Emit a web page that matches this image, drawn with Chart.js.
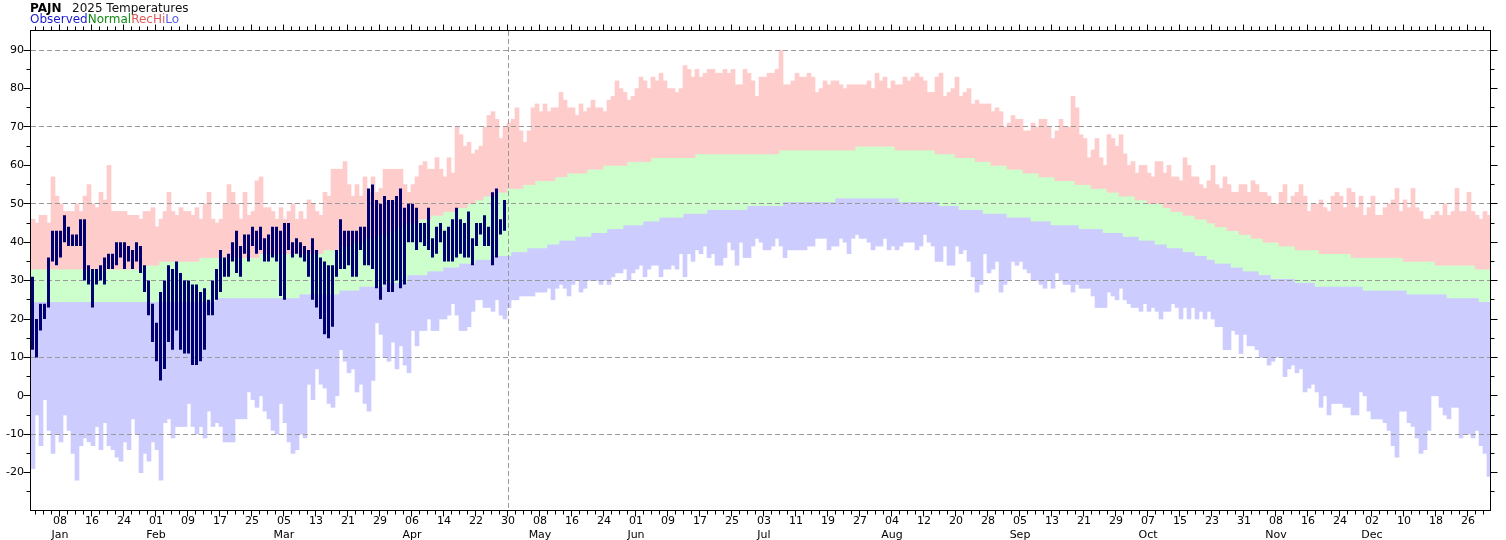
<!DOCTYPE html>
<html>
<head>
<meta charset="utf-8">
<title>PAJN 2025 Temperatures</title>
<script src="https://cdn.jsdelivr.net/npm/chart.js@4.4.1/dist/chart.umd.min.js"></script>
<style>
  html, body { margin: 0; padding: 0; background: #fff; }
  #wrap { position: relative; width: 1506px; height: 540px; }
  #chart { position: absolute; left: 0; top: 0; }
  .hdr { position: absolute; font-family: 'DejaVu Sans', sans-serif; font-size: 12px; line-height: 12px; white-space: nowrap; }
</style>
</head>
<body>
<div id="wrap">
  <canvas id="chart" width="1506" height="540"></canvas>
  <div class="hdr" style="left:30px; top:2px; font-weight:bold; color:#000">PAJN</div>
  <div class="hdr" style="left:72px; top:2px; color:#111">2025 Temperatures</div>
  <div class="hdr" style="left:30px; top:13px"><span style="color:#1a1acc">Observed</span><span style="color:#118a11">Normal</span><span style="color:#e05a5a">RecHi</span><span style="color:#5a5aee">Lo</span></div>
</div>
<script>
// ---------- data (one value per day of 2025, Jan 1 = index 0) ----------

const recHigh = [
  46,45,47,47,45,57,52,50,48,48, 48,50,48,52,55,50,49,53,51,60,
  48,48,48,48,47,47,47,46,48,48, 49,44,46,48,53,48,47,49,48,48,
  47,49,46,50,53,46,45,46,50,55, 53,50,46,53,47,48,56,57,49,49,
  48,46,49,46,48,50,46,48,46,51, 50,48,47,53,52,59,59,59,61,55,
  52,55,52,57,53,57,53,54,59,59, 59,59,59,55,53,55,57,60,61,59,
  59,62,59,57,62,58,70,68,65,66, 63,64,65,70,73,74,72,67,70,71,
  72,75,69,66,69,75,76,74,76,74, 75,75,79,77,75,75,73,76,74,75,
  77,75,75,74,77,78,82,80,79,77, 78,80,83,82,80,83,82,84,82,80,
  80,79,80,86,85,83,85,83,84,85, 85,84,84,85,84,85,81,81,85,84,
  82,78,83,83,84,84,85,90,81,81, 82,84,83,83,84,83,79,80,82,81,
  82,82,81,80,81,81,81,81,81,82, 80,84,82,83,80,82,81,81,83,82,
  83,84,83,82,79,79,83,84,78,79, 80,83,78,79,80,76,77,76,76,76,
  74,75,74,70,71,73,72,72,69,69, 71,70,72,72,70,67,69,72,70,70,
  78,75,68,67,62,64,67,62,60,68, 67,65,68,63,60,61,58,60,60,58,
  57,61,61,58,60,57,57,56,62,60, 57,57,55,54,56,60,55,54,57,55,
  53,53,55,55,53,56,55,53,53,52, 50,50,53,55,50,52,53,55,52,48,
  50,50,51,49,48,52,53,52,49,54, 53,49,52,47,49,52,47,47,49,50,
  51,54,48,51,49,54,49,48,46,46, 47,48,47,50,47,48,54,48,48,53,
  48,47,46,48,47
];

const recLow = [
  -19,-5,-13,-1,-9,-15,-10,-12,-5,-9, -15,-22,-13,-11,-12,-13,-8,-14,-7,-13,
  -14,-16,-17,-12,-14,-6,-10,-20,-15,-17, -12,-14,-22,-7,-6,-11,-8,-8,-8,-2,
  -8,-10,-8,-11,-4,-8,-7,-8,-12,-12, -12,-6,-6,-6,1,-1,-3,0,-4,-6,
  -9,-10,-2,-7,-12,-15,-14,-10,-11,3, -1,7,3,2,-2,-3,0,12,9,6,
  7,1,3,-2,-4,4,19,16,10,9, 14,7,13,8,6,17,13,17,17,20,
  17,17,20,20,21,24,21,17,17,18, 22,25,25,23,23,22,25,21,20,23,
  25,25,26,26,26,26,27,27,27,28, 25,28,29,28,26,29,30,27,28,30,
  30,30,29,30,29,31,32,32,33,30, 32,33,34,31,33,34,34,31,33,33,
  34,33,37,31,37,35,38,37,39,36, 37,34,34,36,40,38,34,40,36,36,
  39,41,40,38,38,39,41,39,36,38, 38,38,38,38,39,39,41,41,41,38,
  39,39,41,40,37,41,42,41,41,40, 38,39,39,41,38,39,38,39,40,40,
  40,38,39,42,40,39,35,35,39,34, 34,39,37,38,35,31,27,29,37,32,
  33,35,27,29,30,35,34,35,33,32, 30,30,29,28,30,28,32,30,29,29,
  27,29,28,28,28,26,23,23,23,27, 26,25,28,25,24,23,23,22,24,22,
  23,22,20,22,22,24,23,20,23,20, 23,20,22,20,22,20,18,18,12,12,
  17,16,11,16,13,13,12,10,10,8, 9,10,10,5,7,8,6,7,1,2,
  3,1,-3,0,-5,-2,-2,-2,-3,-3, -5,-5,1,0,-4,-6,-6,-6,-7,-9,
  -13,-16,-4,-4,-7,-8,-11,-15,-14,-9, 0,0,-3,-5,-6,-3,-3,-11,-10,-10,
  -11,-9,-13,-15,-21
];

const normHigh = [
  33,33,33,33,33,33,33,33,33,33, 33,33,33,33,33,33,33,33,33,33,
  33,33,33,33,33,33,33,34,34,34, 34,34,35,35,35,35,35,35,35,35,
  35,35,36,36,36,36,36,36,36,36, 36,36,36,36,36,36,36,37,37,37,
  37,37,37,37,37,37,37,37,37,37, 37,37,37,38,38,38,38,39,39,39,
  40,40,40,41,41,41,42,42,42,43, 43,44,44,45,45,45,45,46,46,46,
  47,47,47,48,48,48,49,49,49,50, 50,51,51,52,52,52,53,53,53,54,
  54,54,54,55,55,55,56,56,56,56, 56,57,57,57,58,58,58,58,58,59,
  59,59,59,60,60,60,60,60,60,61, 61,61,61,61,61,62,62,62,62,62,
  62,62,62,62,62,62,63,63,63,63, 63,63,63,63,63,63,63,63,63,63,
  63,63,63,63,63,63,63,64,64,64, 64,64,64,64,64,64,64,64,64,64,
  64,64,64,64,64,64,65,65,65,65, 65,65,65,65,65,65,64,64,64,64,
  64,64,64,64,64,64,63,63,63,63, 63,62,62,62,62,62,61,61,61,61,
  60,60,60,60,59,59,59,59,58,58, 58,58,57,57,57,57,56,56,56,56,
  56,55,55,55,55,54,54,54,54,53, 53,53,52,52,52,52,51,51,51,50,
  50,50,50,49,49,48,48,48,47,47, 47,46,46,46,45,45,44,44,44,43,
  43,43,42,42,42,41,41,41,40,40, 40,40,39,39,39,39,38,38,38,38,
  38,38,37,37,37,37,37,37,37,37, 36,36,36,36,36,36,36,36,36,36,
  36,36,36,35,35,35,35,35,35,35, 35,34,34,34,34,34,34,34,34,34,
  34,33,33,33,33
];

const normLow = [
  24.5,24.5,24.5,24.5,24.5,24.5,24.5,24.5,24.5,24.5, 24.5,24.5,24.5,24.5,24.5,24.5,24.5,24.5,24.5,24.5,
  24.5,24.5,24.5,24.5,24.5,24.5,24.5,24.5,24.5,24.5, 24.5,24.5,24.5,24.5,24.5,24.5,24.5,24.5,24.5,24.5,
  24.5,24.5,24.5,24.5,24.5,24.5,25.5,25.5,25.5,25.5, 25.5,25.5,25.5,25.5,25.5,25.5,25.5,25.5,25.5,25.5,
  25.5,25.5,25.5,25.5,25.5,25.5,25.5,26.5,26.5,26.5, 26.5,26.5,26.5,26.5,26.5,26.5,26.5,27.5,27.5,27.5,
  27.5,27.5,28.5,28.5,28.5,28.5,28.5,28.5,29.5,29.5, 29.5,29.5,29.5,29.5,31.5,31.5,31.5,31.5,31.5,32.5,
  32.5,32.5,32.5,33.5,33.5,33.5,33.5,34.5,34.5,34.5, 34.5,35.5,35.5,35.5,35.5,36.5,36.5,36.5,36.5,36.5,
  37.5,37.5,37.5,37.5,38.5,38.5,38.5,38.5,38.5,39.5, 39.5,39.5,40.5,40.5,40.5,40.5,41.5,41.5,41.5,41.5,
  42.5,42.5,42.5,42.5,43.5,43.5,43.5,43.5,44.5,44.5, 44.5,44.5,44.5,45.5,45.5,45.5,45.5,46.5,46.5,46.5,
  46.5,46.5,46.5,47.5,47.5,47.5,47.5,47.5,47.5,48.5, 48.5,48.5,48.5,48.5,48.5,48.5,48.5,48.5,48.5,49.5,
  49.5,49.5,49.5,49.5,49.5,49.5,49.5,49.5,50.5,50.5, 50.5,50.5,50.5,50.5,50.5,50.5,50.5,50.5,50.5,50.5,
  50.5,51.5,51.5,51.5,51.5,51.5,51.5,51.5,51.5,51.5, 51.5,51.5,51.5,51.5,51.5,51.5,51.5,50.5,50.5,50.5,
  50.5,50.5,50.5,50.5,50.5,50.5,50.5,49.5,49.5,49.5, 49.5,49.5,48.5,48.5,48.5,48.5,48.5,48.5,47.5,47.5,
  47.5,47.5,47.5,47.5,46.5,46.5,46.5,46.5,46.5,46.5, 45.5,45.5,45.5,45.5,45.5,44.5,44.5,44.5,44.5,44.5,
  44.5,44.5,43.5,43.5,43.5,43.5,43.5,43.5,42.5,42.5, 42.5,42.5,42.5,41.5,41.5,41.5,41.5,40.5,40.5,40.5,
  40.5,39.5,39.5,39.5,38.5,38.5,38.5,38.5,37.5,37.5, 37.5,36.5,36.5,36.5,35.5,35.5,34.5,34.5,34.5,34.5,
  33.5,33.5,33.5,32.5,32.5,32.5,32.5,31.5,31.5,31.5, 30.5,30.5,30.5,30.5,30.5,30.5,29.5,29.5,29.5,29.5,
  29.5,28.5,28.5,28.5,28.5,28.5,28.5,28.5,28.5,28.5, 28.5,28.5,28.5,27.5,27.5,27.5,27.5,27.5,27.5,27.5,
  27.5,27.5,27.5,27.5,26.5,26.5,26.5,26.5,26.5,26.5, 26.5,26.5,26.5,26.5,25.5,25.5,25.5,25.5,25.5,25.5,
  25.5,25.5,24.5,24.5,24.5
];

// observed so far (Jan 1 .. Apr 29)
const obsHigh = [
  31,20,24,24,36,43,43,43,47,44, 42,42,46,46,34,33,33,34,36,37,
  37,40,40,40,39,38,40,39,34,30, 24,19,27,30,34,33,35,32,30,30,
  29,29,27,28,25,30,33,38,36,37, 40,43,39,42,42,44,43,44,41,42,
  44,44,43,45,45,40,41,40,39,38, 41,38,36,35,34,34,38,46,43,43,
  43,43,44,44,54,55,51,50,52,51, 51,52,54,49,50,50,49,45,45,49,
  41,44,45,43,44,46,49,46,45,48, 41,45,45,47,44,53,54,46,51
];
const obsLow = [
  12,10,17,20,23,35,34,36,40,39, 39,39,39,30,29,23,29,30,29,33,
  33,34,36,33,35,33,35,32,27,21, 14,9,4,7,14,12,17,12,11,11,
  8,8,9,12,21,21,25,27,31,31, 35,32,31,37,35,39,37,38,35,35,
  36,35,26,25,38,36,37,36,35,31, 25,23,20,16,15,18,31,33,33,34,
  31,31,38,34,34,33,28,25,29,27, 27,30,28,29,40,40,38,40,39,38,
  36,37,40,35,35,35,36,37,36,36, 34,39,42,39,39,34,36,42,43
];

// x tick labels, every 8 days
const tickDays = [7,15,23,31,39,47,55,63,71,79,87,95,103,111,119,127,135,143,151,159,167,175,183,
  191,199,207,215,223,231,239,247,255,263,271,279,287,295,303,311,319,327,335,343,351,359];
const tickDayLabels = ['08','16','24','01','09','17','25','05','13','21','29','06','14','22','30','08',
  '16','24','01','09','17','25','03','11','19','27','04','12','20','28','05','13','21','29','07','15',
  '23','31','08','16','24','02','10','18','26'];
const tickMonthLabels = ['Jan','','','Feb','','','','Mar','','','','Apr','','','','May','','','Jun','',
  '','','Jul','','','','Aug','','','','Sep','','','','Oct','','','','Nov','','','Dec','','',''];

const gridValues = [-10, 10, 30, 50, 70, 90];
const todayIndex = 119;

// ---------- build ----------

const days = recHigh.map((_, i) => i);
const labelAt = {};
tickDays.forEach((d, k) => {
  labelAt[d] = tickMonthLabels[k] ? [tickDayLabels[k], tickMonthLabels[k]] : tickDayLabels[k];
});

const observed = days.map(i => (i < obsHigh.length ? [obsLow[i], obsHigh[i]] : null));
const recHiBand = days.map(i => [normHigh[i], recHigh[i]]);
const normalBand = days.map(i => [normLow[i], normHigh[i]]);
const recLoBand = days.map(i => [recLow[i], normLow[i]]);

const FONT = { family: "'DejaVu Sans', sans-serif", size: 11 };

// dashed grid under the observed bars, plus the frame and tick marks
const framePlugin = {
  id: 'frame',
  beforeDatasetDraw(chart, args) {
    if (args.index !== 0) return;
    const { ctx, chartArea: a, scales: { x, y } } = chart;
    ctx.save();
    ctx.strokeStyle = '#999';
    ctx.lineWidth = 1;
    ctx.setLineDash([5, 3]);
    ctx.beginPath();
    gridValues.forEach(v => {
      const py = Math.floor(y.getPixelForValue(v)) + 0.5;
      ctx.moveTo(a.left, py);
      ctx.lineTo(a.right, py);
    });
    const px = Math.floor(x.getPixelForValue(todayIndex)) - 0.5;
    ctx.moveTo(px, a.top);
    ctx.lineTo(px, a.bottom);
    ctx.stroke();
    ctx.restore();
    // observed bars sit at the left of each day slot
    ctx.save();
    ctx.translate(-0.5, 0);
  },
  afterDatasetDraw(chart, args) {
    if (args.index === 0) chart.ctx.restore();
  },
  afterDraw(chart) {
    const { ctx, chartArea: a, scales: { x, y } } = chart;
    const half = (x.getPixelForValue(1) - x.getPixelForValue(0)) / 2;
    ctx.save();
    ctx.strokeStyle = '#000';
    ctx.lineWidth = 1;
    ctx.beginPath();
    for (let i = 1; i < days.length; i += 2) {
      const px = Math.round(x.getPixelForValue(i) - half) + 0.5;
      const len = labelAt[i] ? 6 : 4;
      ctx.moveTo(px, a.bottom - 0.5);
      ctx.lineTo(px, a.bottom - 0.5 + len);
      ctx.moveTo(px, a.top - 0.5);
      ctx.lineTo(px, a.top - 0.5 - len);
    }
    y.ticks.forEach(t => {
      if (t.value <= y.min || t.value >= y.max) return;
      const py = Math.floor(y.getPixelForValue(t.value)) + 0.5;
      const len = t.value % 10 === 0 ? 7 : 4;
      ctx.moveTo(a.left - 0.5, py);
      ctx.lineTo(a.left - 0.5 - len, py);
      ctx.moveTo(a.right - 0.5, py);
      ctx.lineTo(a.right - 0.5 + len, py);
    });
    ctx.stroke();
    ctx.strokeRect(a.left - 0.5, a.top - 0.5, a.right - a.left, a.bottom - a.top);
    ctx.restore();
  }
};

new Chart(document.getElementById('chart'), {
  type: 'bar',
  data: {
    labels: days,
    datasets: [
      { label: 'Observed', data: observed, backgroundColor: '#000070', barPercentage: 0.75, order: 0 },
      { label: 'Record high', data: recHiBand, backgroundColor: '#ffcccc', order: 1 },
      { label: 'Normal', data: normalBand, backgroundColor: '#ccffcc', order: 2 },
      { label: 'Record low', data: recLoBand, backgroundColor: '#ccccff', order: 3 }
    ]
  },
  options: {
    responsive: false,
    animation: false,
    events: [],
    layout: { padding: { top: 31, right: 15, left: 0, bottom: 0 } },
    datasets: { bar: { grouped: false, barPercentage: 1, categoryPercentage: 1, borderWidth: 0 } },
    plugins: { legend: { display: false }, tooltip: { enabled: false } },
    scales: {
      x: {
        type: 'category',
        grid: { display: false, drawTicks: false },
        border: { display: false },
        ticks: {
          autoSkip: false,
          maxRotation: 0,
          minRotation: 0,
          padding: 4,
          labelOffset: -1,
          color: '#000',
          font: FONT,
          callback: (v, i) => labelAt[i] || ''
        },
        afterFit: s => { s.height = 29; }
      },
      y: {
        min: -30,
        max: 95,
        grid: { display: false, drawTicks: false },
        border: { display: false },
        ticks: {
          stepSize: 5,
          autoSkip: false,
          padding: 7,
          color: '#000',
          font: FONT,
          callback: v => (v % 10 === 0 && v >= -20 && v <= 90 ? String(v) : '')
        },
        afterFit: s => { s.width = 31; }
      }
    }
  },
  plugins: [framePlugin]
});
</script>
</body>
</html>
